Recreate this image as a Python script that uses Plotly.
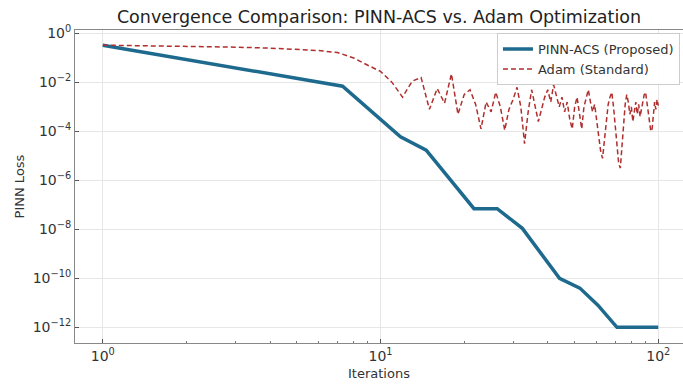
import plotly.graph_objects as go

# PINN-ACS (Proposed) piecewise convergence
acs_iter = [1, 7.3, 11.8, 14.6, 21.7, 26.3, 32.4, 44.1, 52.2, 60.6, 71, 100]
acs_loss = [3.3e-1, 7e-3, 6e-5, 1.7e-5, 7e-8, 7e-8, 1.1e-8, 1.0e-10, 4e-11, 8e-12, 1e-12, 1e-12]

# Adam (Standard) per-iteration loss (log10 values)
adam_iter = list(range(1, 101))
adam_log = [
    -0.48, -0.52, -0.56, -0.60, -0.64, -0.70, -0.78, -1.00, -1.30, -1.55,  # 1-10
    -2.00, -2.60, -1.95, -1.80, -3.10, -2.25, -2.85, -1.65, -3.30, -2.50,  # 11-20
    -2.30, -2.90, -3.90, -2.80, -3.20, -2.40, -3.00, -3.95, -3.10, -2.70,  # 21-30
    -2.20, -3.00, -4.50, -3.20, -2.30, -2.90, -3.60, -3.10, -2.60, -2.30,  # 31-40
    -2.80, -2.10, -2.60, -3.00, -2.60, -3.20, -2.80, -3.50, -3.90, -3.00,  # 41-50
    -2.60, -3.20, -3.90, -3.00, -2.60, -2.30, -2.80, -3.20, -2.90, -3.50,  # 51-60
    -4.20, -4.80, -5.10, -4.30, -3.50, -2.90, -2.60, -2.40, -3.00, -3.80,  # 61-70
    -4.60, -5.30, -5.50, -4.50, -3.60, -2.90, -2.50, -2.80, -3.30, -3.00,  # 71-80
    -3.60, -3.20, -2.80, -3.30, -2.90, -3.40, -3.10, -2.70, -2.50, -2.40,  # 81-90
    -2.80, -3.30, -3.70, -4.00, -3.90, -3.20, -2.80, -3.10, -2.70, -2.95,  # 91-100
]
adam_loss = [10 ** v for v in adam_log]

y_tickvals = [1e0, 1e-2, 1e-4, 1e-6, 1e-8, 1e-10, 1e-12]
y_ticktext = ["10<sup>0</sup>", "10<sup>\u22122</sup>", "10<sup>\u22124</sup>", "10<sup>\u22126</sup>",
              "10<sup>\u22128</sup>", "10<sup>\u221210</sup>", "10<sup>\u221212</sup>"]
x_tickvals = [1, 10, 100]
x_ticktext = ["10<sup>0</sup>", "10<sup>1</sup>", "10<sup>2</sup>"]
x_minorvals = [2, 3, 4, 5, 6, 7, 8, 9, 20, 30, 40, 50, 60, 70, 80, 90]

fig = go.Figure()
fig.add_trace(go.Scatter(x=acs_iter, y=acs_loss, mode="lines", name="PINN-ACS (Proposed)",
                         line=dict(color="#1d6a8e", width=3.5)))
fig.add_trace(go.Scatter(x=adam_iter, y=adam_loss, mode="lines", name="Adam (Standard)",
                         line=dict(color="#b02e2e", width=1.5, dash="5px,3px")))

tick_font = dict(family="DejaVu Sans", size=14, color="#333333")
label_font = dict(family="DejaVu Sans", size=13, color="#333333")
fig.update_layout(
    width=683, height=386,
    margin=dict(l=75, r=0, t=30, b=43),
    paper_bgcolor="white", plot_bgcolor="white",
    font=dict(family="DejaVu Sans", color="#333333"),
    title=dict(text="Convergence Comparison: PINN-ACS vs. Adam Optimization",
               x=0.5, xref="paper", xanchor="center", y=0.955, yanchor="middle",
               font=dict(family="DejaVu Sans", size=17.5, color="#222222")),
    legend=dict(x=0.995, y=0.99, xanchor="right", yanchor="top",
                bgcolor="rgba(255,255,255,0.9)", bordercolor="#cccccc", borderwidth=1,
                font=dict(family="DejaVu Sans", size=13, color="#333333")),
    showlegend=True,
)
fig.update_xaxes(type="log", range=[-0.1, 2.089], tickvals=x_tickvals, ticktext=x_ticktext,
                 tickfont=tick_font, ticks="inside", ticklen=4, tickcolor="#555555",
                 showline=True, linecolor="#888888", linewidth=1, mirror=True,
                 showgrid=True, gridcolor="#e6e6e6", gridwidth=1, zeroline=False,
                 minor=dict(tickmode="array", tickvals=x_minorvals, ticks="inside", ticklen=2,
                            tickcolor="#777777", showgrid=False),
                 title=dict(text="Iterations", font=label_font, standoff=6))
fig.update_yaxes(type="log", range=[-12.64, 0.14], tickvals=y_tickvals, ticktext=y_ticktext,
                 tickfont=tick_font, ticks="inside", ticklen=4, tickcolor="#555555",
                 showline=True, linecolor="#888888", linewidth=1, mirror=False,
                 showgrid=True, gridcolor="#e6e6e6", gridwidth=1, zeroline=False,
                 title=dict(text="PINN Loss", font=label_font, standoff=5))

fig.write_html("out.html")
